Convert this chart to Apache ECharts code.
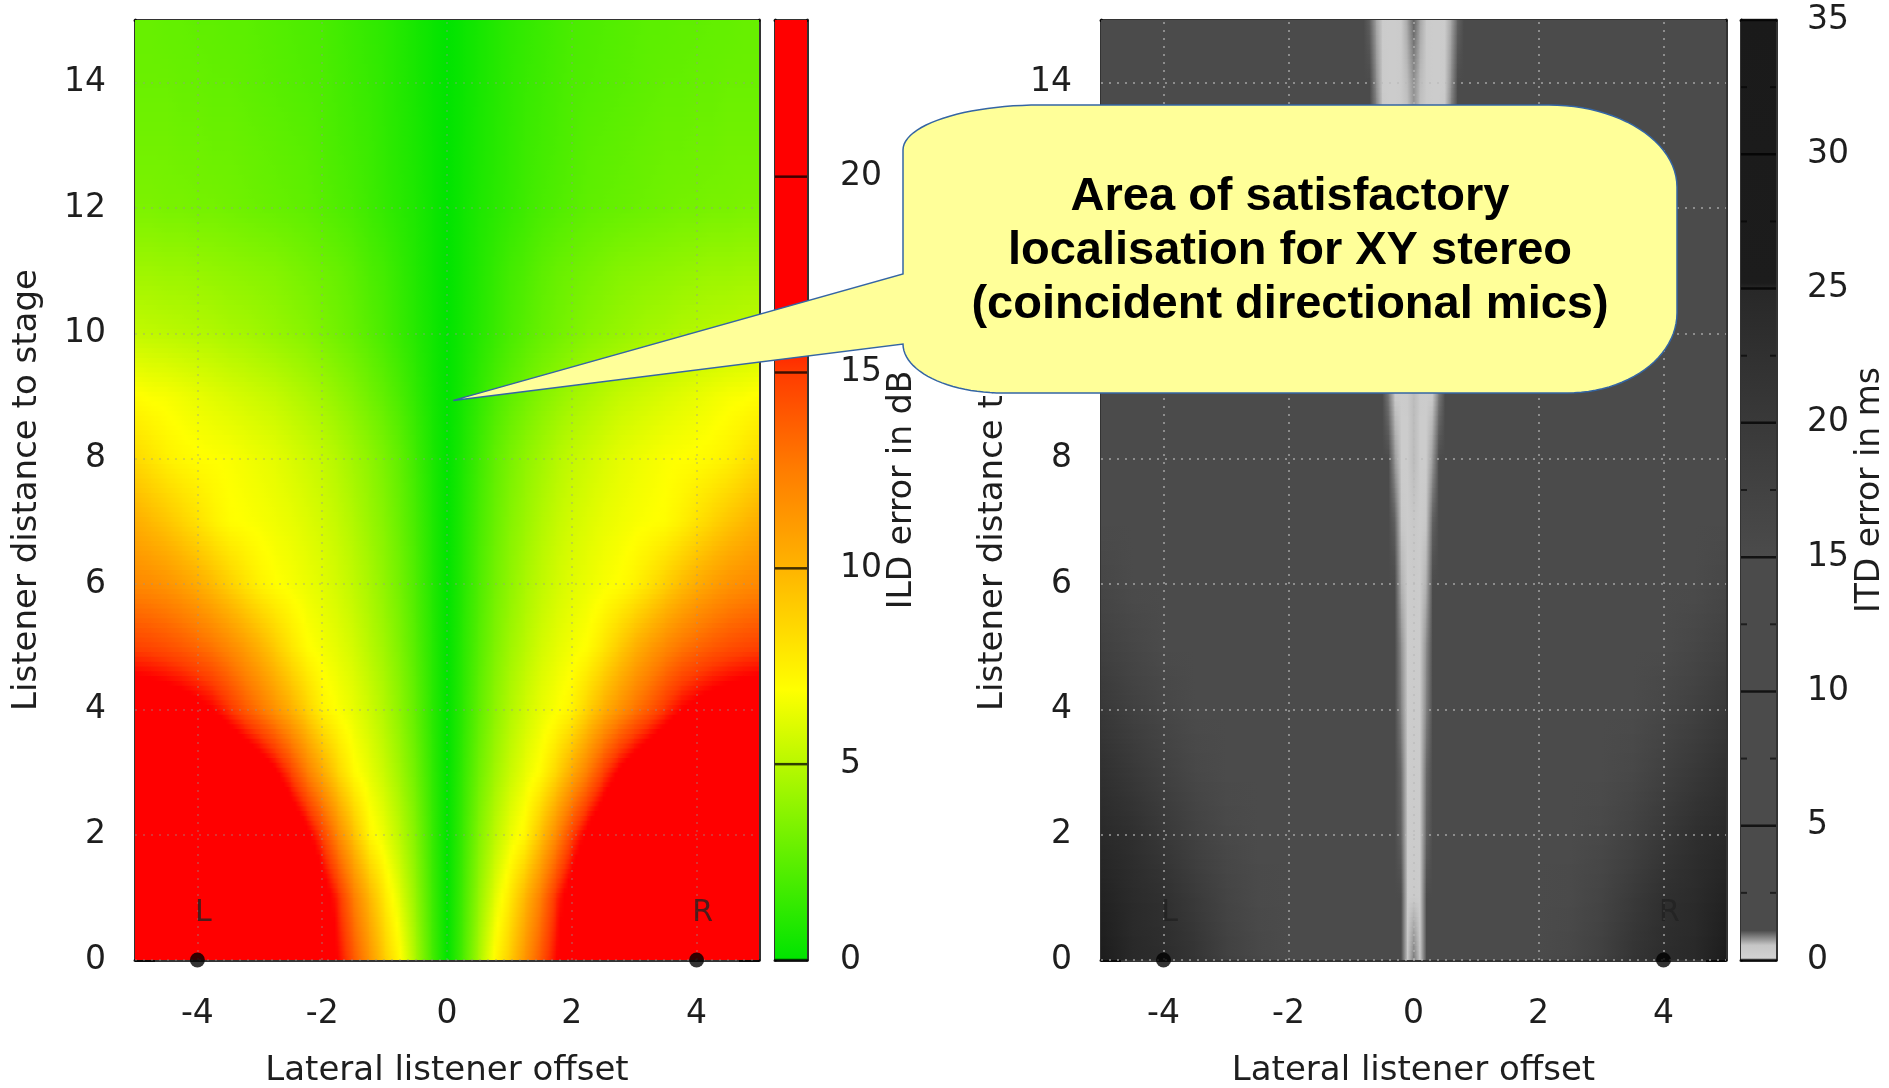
<!DOCTYPE html>
<html>
<head>
<meta charset="utf-8">
<script src="https://cdn.jsdelivr.net/npm/echarts@6/dist/echarts.min.js"></script>
<style>
html,body{margin:0;padding:0;background:#ffffff;}
#chart{width:1889px;height:1088px;}
</style>
</head>
<body>
<div id="chart"></div>
<script>
// ------------------------------------------------------------------ data
const xTicks = [-4, -2, 0, 2, 4];
const yTicks = [0, 2, 4, 6, 8, 10, 12, 14];
const ildRange = [0, 24];
const itdRange = [0, 35];
const ildBarTicks = [0, 5, 10, 15, 20];
const itdBarTicks = [0, 5, 10, 15, 20, 25, 30, 35];
const itdBarMinorTicks = [2.5, 7.5, 12.5, 17.5, 22.5, 27.5, 32.5];
const speakerX = [-4, 4];
const speakerY = [0, 0];
const speakerNames = ['L', 'R'];
const calloutLines = ['Area of satisfactory', 'localisation for XY stereo', '(coincident directional mics)'];
const calloutTarget = [0.1, 8.93];

// ILD error (dB), rows = listener distance 0..15, columns = lateral offset -5..5
const ildX = [-5,-4.75,-4.5,-4.25,-4,-3.75,-3.5,-3.25,-3,-2.75,-2.5,-2.25,-2,-1.75,-1.5,-1.25,-1,-0.75,-0.5,-0.25,0,0.25,0.5,0.75,1,1.25,1.5,1.75,2,2.25,2.5,2.75,3,3.25,3.5,3.75,4,4.25,4.5,4.75,5];
const ildY = [0,1,2,3,4,5,6,7,8,9,10,11,12,13,14,15];
const ildRows = [
[24,24,24,24,24,24,24,24,24,24,23,21,19,16.5,14,11.5,9,7,4.5,2,0,2,4.5,7,9,11.5,14,16.5,19,21,23,24,24,24,24,24,24,24,24,24,24],
[24,24,24,24,24,24,24,24,24,23,22,20,18,15.5,12.5,10,7.8,6,4,1.8,0,1.8,4,6,7.8,10,12.5,15.5,18,20,22,23,24,24,24,24,24,24,24,24,24],
[24,24,24,24,24,24,24,23,22,21,19.2,17.2,14.8,12,9.5,7.3,6.3,5,3.5,1.6,0,1.6,3.5,5,6.3,7.3,9.5,12,14.8,17.2,19.2,21,22,23,24,24,24,24,24,24,24],
[23,23,23,22.5,22,21.5,20.5,19.5,18.3,16.8,14.8,12.5,10.5,8.6,7.1,6.3,5.4,4.3,3,1.4,0,1.4,3,4.3,5.4,6.3,7.1,8.6,10.5,12.5,14.8,16.8,18.3,19.5,20.5,21.5,22,22.5,23,23,23],
[18.7,18.5,18.2,17.8,17.2,16.5,15.3,14,12.8,11.5,10.2,8.8,7.4,6.8,6.3,5.6,4.8,3.8,2.6,1.2,0,1.2,2.6,3.8,4.8,5.6,6.3,6.8,7.4,8.8,10.2,11.5,12.8,14,15.3,16.5,17.2,17.8,18.2,18.5,18.7],
[14.8,14.6,14.3,13.9,13.4,12.8,12,11.1,10.1,9,7.9,7,6.6,6.2,5.7,5,4.3,3.4,2.3,1.1,0,1.1,2.3,3.4,4.3,5,5.7,6.2,6.6,7,7.9,9,10.1,11.1,12,12.8,13.4,13.9,14.3,14.6,14.8],
[12,11.8,11.5,11,10.4,9.7,8.9,8.1,7.4,6.95,6.7,6.4,6.1,5.7,5.2,4.6,3.9,3.1,2.1,1,0,1,2.1,3.1,3.9,4.6,5.2,5.7,6.1,6.4,6.7,6.95,7.4,8.1,8.9,9.7,10.4,11,11.5,11.8,12],
[10.3,9.8,9.3,8.7,8.1,7.5,7,6.85,6.7,6.5,6.3,6,5.7,5.3,4.8,4.2,3.6,2.8,1.9,0.9,0,0.9,1.9,2.8,3.6,4.2,4.8,5.3,5.7,6,6.3,6.5,6.7,6.85,7,7.5,8.1,8.7,9.3,9.8,10.3],
[8.5,8,7.5,7.2,7,6.9,6.8,6.6,6.4,6.2,5.9,5.6,5.3,4.9,4.4,3.9,3.3,2.6,1.7,0.8,0,0.8,1.7,2.6,3.3,3.9,4.4,4.9,5.3,5.6,5.9,6.2,6.4,6.6,6.8,6.9,7,7.2,7.5,8,8.5],
[7,6.8,6.7,6.5,6.3,6.1,5.9,5.7,5.5,5.3,5,4.7,4.4,4,3.6,3.1,2.6,2,1.3,0.6,0,0.6,1.3,2,2.6,3.1,3.6,4,4.4,4.7,5,5.3,5.5,5.7,5.9,6.1,6.3,6.5,6.7,6.8,7],
[5.3,5.2,5.1,5,4.9,4.8,4.6,4.5,4.3,4.1,3.9,3.7,3.4,3.1,2.8,2.4,2,1.5,1,0.5,0,0.5,1,1.5,2,2.4,2.8,3.1,3.4,3.7,3.9,4.1,4.3,4.5,4.6,4.8,4.9,5,5.1,5.2,5.3],
[4.3,4.3,4.2,4.2,4.1,4,3.9,3.8,3.7,3.6,3.4,3.2,3,2.8,2.5,2.1,1.8,1.35,0.9,0.45,0,0.45,0.9,1.35,1.8,2.1,2.5,2.8,3,3.2,3.4,3.6,3.7,3.8,3.9,4,4.1,4.2,4.2,4.3,4.3],
[3.4,3.4,3.3,3.3,3.2,3.2,3.1,3,2.9,2.8,2.7,2.6,2.4,2.2,2,1.7,1.4,1.1,0.8,0.4,0,0.4,0.8,1.1,1.4,1.7,2,2.2,2.4,2.6,2.7,2.8,2.9,3,3.1,3.2,3.2,3.3,3.3,3.4,3.4],
[3.1,3.1,3.1,3,3,2.9,2.9,2.8,2.7,2.6,2.5,2.4,2.2,2,1.8,1.6,1.3,1,0.7,0.35,0,0.35,0.7,1,1.3,1.6,1.8,2,2.2,2.4,2.5,2.6,2.7,2.8,2.9,2.9,3,3,3.1,3.1,3.1],
[2.9,2.9,2.9,2.8,2.8,2.7,2.7,2.6,2.5,2.4,2.3,2.2,2.1,1.9,1.7,1.5,1.25,0.95,0.65,0.3,0,0.3,0.65,0.95,1.25,1.5,1.7,1.9,2.1,2.2,2.3,2.4,2.5,2.6,2.7,2.7,2.8,2.8,2.9,2.9,2.9],
[2.8,2.8,2.7,2.7,2.6,2.6,2.5,2.5,2.4,2.3,2.2,2.1,2,1.8,1.6,1.4,1.2,0.9,0.6,0.3,0,0.3,0.6,0.9,1.2,1.4,1.6,1.8,2,2.1,2.2,2.3,2.4,2.5,2.5,2.6,2.6,2.7,2.7,2.8,2.8]
];

// ITD error (ms), rows = listener distance 0..15, columns = lateral offset (denser near 0)
const itdX = [-5,-4.5,-4,-3.5,-3,-2.5,-2,-1.5,-1,-0.8,-0.7,-0.6,-0.5,-0.4,-0.3,-0.2,-0.1,0,0.1,0.2,0.3,0.4,0.5,0.6,0.7,0.8,1,1.5,2,2.5,3,3.5,4,4.5,5];
const itdY = [0,1,2,3,4,5,6,7,8,9,10,11,12,13,14,15];
const itdRows = [
[25.3,24.8,23.6,21.5,18,16,12,10,10,10,10,10,10,10,10,10,0.35,0.9,0.35,10,10,10,10,10,10,10,10,10,12,16,18,21.5,23.6,24.8,25.3],
[25.1,24.2,22.7,19.8,17,15.3,12,10,10,10,10,10,10,10,10,10,0.3,0.4,0.3,10,10,10,10,10,10,10,10,10,12,15.3,17,19.8,22.7,24.2,25.1],
[24.6,23,20.3,17.7,15.8,12,10,10,10,10,10,10,10,10,10,1.0,0.3,0.35,0.3,1.0,10,10,10,10,10,10,10,10,10,12,15.8,17.7,20.3,23,24.6],
[22.7,20.3,18,16,12,10,10,10,10,10,10,10,10,10,10,0.96,0.3,0.35,0.3,0.96,10,10,10,10,10,10,10,10,10,10,12,16,18,20.3,22.7],
[20.3,18,16.4,13,10,10,10,10,10,10,10,10,10,10,10,0.85,0.3,0.35,0.3,0.85,10,10,10,10,10,10,10,10,10,10,10,13,16.4,18,20.3],
[18,16.4,13,10,10,10,10,10,10,10,10,10,10,10,10,0.8,0.3,0.35,0.3,0.8,10,10,10,10,10,10,10,10,10,10,10,10,13,16.4,18],
[16.4,14,10,10,10,10,10,10,10,10,10,10,10,10,10,0.65,0.3,0.4,0.3,0.65,10,10,10,10,10,10,10,10,10,10,10,10,10,14,16.4],
[14,10,10,10,10,10,10,10,10,10,10,10,10,10,1.0,0.5,0.3,0.5,0.3,0.5,1.0,10,10,10,10,10,10,10,10,10,10,10,10,10,14],
[10,10,10,10,10,10,10,10,10,10,10,10,10,10,0.75,0.3,0.3,0.6,0.3,0.3,0.75,10,10,10,10,10,10,10,10,10,10,10,10,10,10],
[10,10,10,10,10,10,10,10,10,10,10,10,10,0.9,0.4,0.3,0.35,0.6,0.35,0.3,0.4,0.9,10,10,10,10,10,10,10,10,10,10,10,10,10],
[10,10,10,10,10,10,10,10,10,10,10,10,10,0.7,0.3,0.3,0.4,0.6,0.4,0.3,0.3,0.7,10,10,10,10,10,10,10,10,10,10,10,10,10],
[10,10,10,10,10,10,10,10,10,10,10,10,0.95,0.45,0.3,0.3,0.45,0.65,0.45,0.3,0.3,0.45,0.95,10,10,10,10,10,10,10,10,10,10,10,10],
[10,10,10,10,10,10,10,10,10,10,10,10,0.7,0.35,0.3,0.3,0.5,0.7,0.5,0.3,0.3,0.35,0.7,10,10,10,10,10,10,10,10,10,10,10,10],
[10,10,10,10,10,10,10,10,10,10,10,0.95,0.5,0.3,0.3,0.35,0.55,0.75,0.55,0.35,0.3,0.3,0.5,0.95,10,10,10,10,10,10,10,10,10,10,10],
[10,10,10,10,10,10,10,10,10,10,10,0.8,0.4,0.3,0.3,0.4,0.6,0.8,0.6,0.4,0.3,0.3,0.4,0.8,10,10,10,10,10,10,10,10,10,10,10],
[10,10,10,10,10,10,10,10,10,10,1.0,0.7,0.35,0.3,0.3,0.4,0.7,1.0,0.7,0.4,0.3,0.3,0.35,0.7,1.0,10,10,10,10,10,10,10,10,10,10]
];

// ------------------------------------------------------------------ palettes (style)
const ildPalette = [[0,'#00e400'],[3.5,'#80f300'],[6.9,'#ffff00'],[10,'#ffb400'],[12.5,'#ff7d00'],[15,'#ff3c00'],[16.5,'#ff0000'],[24,'#ff0000']];
const itdPalette = [[0,'#d4d4d4'],[0.55,'#c6c6c6'],[1.1,'#4b4b4b'],[15,'#4b4b4b'],[20,'#393939'],[25,'#282828'],[25.2,'#1c1c1c'],[35,'#1a1a1a']];

function checkGrid(xs, ys, rows, name) {
  if (rows.length !== ys.length) throw new Error(name + ' rows ' + rows.length);
  rows.forEach((r, k) => { if (r.length !== xs.length) throw new Error(name + ' row ' + k + ' len ' + r.length); });
}
checkGrid(ildX, ildY, ildRows, 'ild');
checkGrid(itdX, itdY, itdRows, 'itd');

function hexRgb(h) { return [parseInt(h.slice(1,3),16), parseInt(h.slice(3,5),16), parseInt(h.slice(5,7),16)]; }
function mix(a, b, t) { return [a[0]+(b[0]-a[0])*t, a[1]+(b[1]-a[1])*t, a[2]+(b[2]-a[2])*t]; }
function css(c) { return 'rgb(' + Math.round(c[0]) + ',' + Math.round(c[1]) + ',' + Math.round(c[2]) + ')'; }
function makePal(stops) {
  const p = stops.map(s => [s[0], hexRgb(s[1])]);
  return function (v) {
    if (v <= p[0][0]) return p[0][1];
    for (let k = 1; k < p.length; k++) {
      if (v <= p[k][0]) {
        const a = p[k-1], b = p[k];
        const d = b[0] - a[0];
        return mix(a[1], b[1], d > 0 ? (v - a[0]) / d : 1);
      }
    }
    return p[p.length-1][1];
  };
}
const ildColor = makePal(ildPalette);
const itdColor = makePal(itdPalette);

function gridData(xs, ys, rows) {
  const out = [];
  for (let j = 0; j < ys.length; j++)
    for (let i = 0; i < xs.length; i++)
      out.push([xs[i], ys[j], rows[j][i], i, j]);
  return out;
}

// smooth (pm3d-like) shading of each cell between four read nodes
function heatRender(xs, ys, rows, pal, mode) {
  return function (params, api) {
    const i = api.value(3), j = api.value(4);
    if (i >= xs.length - 1 || j >= ys.length - 1) return null;
    const pa = api.coord([api.value(0), api.value(1)]);
    const pb = api.coord([xs[i+1], ys[j+1]]);
    const x0 = pa[0], x1 = pb[0], yb = pa[1], yt = pb[1];
    const v00 = api.value(2), v10 = rows[j][i+1], v01 = rows[j+1][i], v11 = rows[j+1][i+1];
    const K = Math.max(1, Math.round((yb - yt) / 5));
    const children = [];
    for (let k = 0; k < K; k++) {
      const t = (k + 0.5) / K;
      const yA = yb - (yb - yt) * k / K;
      const yB = yb - (yb - yt) * (k + 1) / K;
      let stops;
      if (mode === 'value') {
        const vl = v00 + (v01 - v00) * t, vr = v10 + (v11 - v10) * t;
        stops = [0, 0.25, 0.5, 0.75, 1].map(o => ({offset: o, color: css(pal(vl + (vr - vl) * o))}));
      } else {
        const cl = mix(pal(v00), pal(v01), t), cr = mix(pal(v10), pal(v11), t);
        stops = [{offset: 0, color: css(cl)}, {offset: 1, color: css(cr)}];
      }
      children.push({
        type: 'rect',
        shape: {x: x0, y: yB - 0.5, width: x1 - x0 + 0.8, height: yA - yB + 1},
        style: {fill: new echarts.graphic.LinearGradient(0, 0, 1, 0, stops)}
      });
    }
    return {type: 'group', children: children};
  };
}

function barRender(palette, range, major, minor) {
  return function (params, api) {
    const p0 = api.coord([0, range[0]]), p1 = api.coord([1, range[1]]);
    const span = range[1] - range[0];
    const grad = new echarts.graphic.LinearGradient(0, 1, 0, 0,
      palette.map(s => ({offset: (s[0] - range[0]) / span, color: s[1]})));
    const children = [{type: 'rect', shape: {x: p0[0], y: p1[1], width: p1[0] - p0[0], height: p0[1] - p1[1]}, style: {fill: grad}}];
    major.forEach(v => {
      const c = api.coord([0, v]);
      children.push({type: 'line', shape: {x1: p0[0], y1: c[1], x2: p1[0], y2: c[1]}, style: {stroke: 'rgba(0,0,0,0.75)', lineWidth: 2.5}});
    });
    minor.forEach(v => {
      const c = api.coord([0, v]);
      children.push({type: 'line', shape: {x1: p0[0], y1: c[1], x2: p0[0] + 6, y2: c[1]}, style: {stroke: 'rgba(0,0,0,0.6)', lineWidth: 2}});
      children.push({type: 'line', shape: {x1: p1[0] - 6, y1: c[1], x2: p1[0], y2: c[1]}, style: {stroke: 'rgba(0,0,0,0.6)', lineWidth: 2}});
    });
    return {type: 'group', children: children};
  };
}

// ------------------------------------------------------------------ axes
const FONT = 'DejaVu Sans';
const TXT = '#1e1e1e';
const frame = {color: 'rgba(0,0,0,0.8)', width: 3};

function mainX(grid, pos, withLabels) {
  return {
    gridIndex: grid, type: 'value', position: pos, min: -5, max: 5,
    axisLine: {show: true, onZero: false, lineStyle: frame},
    axisTick: {show: true, inside: true, length: 20, customValues: xTicks, lineStyle: {color: 'rgba(0,0,0,0.8)', width: 3}},
    axisLabel: {show: withLabels, customValues: xTicks, margin: 38, fontSize: 33, fontFamily: FONT, color: TXT},
    splitLine: {show: false},
    name: withLabels ? 'Lateral listener offset' : '',
    nameLocation: 'middle', nameGap: 94,
    nameTextStyle: {fontSize: 34, fontFamily: FONT, color: TXT}
  };
}
function mainY(grid, pos, withLabels) {
  return {
    gridIndex: grid, type: 'value', position: pos, min: 0, max: 15,
    axisLine: {show: true, onZero: false, lineStyle: frame},
    axisTick: {show: true, inside: true, length: 20, customValues: yTicks, lineStyle: {color: 'rgba(0,0,0,0.8)', width: 3}},
    axisLabel: {show: withLabels, customValues: yTicks, margin: 29, fontSize: 33, fontFamily: FONT, color: TXT},
    splitLine: {show: false},
    name: withLabels ? 'Listener distance to stage' : '',
    nameLocation: 'middle', nameGap: 91,
    nameTextStyle: {fontSize: 34, fontFamily: FONT, color: TXT}
  };
}
function barX(grid, pos) {
  return {
    gridIndex: grid, type: 'value', position: pos, min: 0, max: 1,
    axisLine: {show: true, onZero: false, lineStyle: frame},
    axisTick: {show: false}, axisLabel: {show: false}, splitLine: {show: false}
  };
}
function barY(grid, pos, range, labels, name, margin, gap) {
  return {
    gridIndex: grid, type: 'value', position: pos, min: range[0], max: range[1],
    axisLine: {show: true, onZero: false, lineStyle: frame},
    axisTick: {show: false},
    axisLabel: {show: !!labels, customValues: labels || [], margin: margin, fontSize: 33, fontFamily: FONT, color: TXT},
    splitLine: {show: false},
    name: name || '', nameLocation: 'middle', nameGap: gap,
    nameTextStyle: {fontSize: 33, fontFamily: FONT, color: TXT}
  };
}

function gridLines(color) {
  return {
    silent: true, symbol: ['none', 'none'], animation: false,
    label: {show: false},
    lineStyle: {color: color, width: 2, type: [2, 6]},
    emphasis: {disabled: true},
    data: xTicks.map(v => ({xAxis: v})).concat(yTicks.map(v => ({yAxis: v})))
  };
}

function speakerSeries(xi, yi) {
  return {
    type: 'scatter', xAxisIndex: xi, yAxisIndex: yi, z: 10, clip: false, silent: true,
    symbol: 'circle', symbolSize: 15,
    itemStyle: {color: '#000'},
    label: {show: true, position: 'top', distance: 24, offset: [6, 0], formatter: p => p.name,
      fontSize: 30, fontFamily: FONT, color: '#222'},
    data: speakerX.map((x, k) => ({name: speakerNames[k], value: [x, speakerY[k]]}))
  };
}

const gridBase = {containLabel: false, outerBoundsMode: 'none', show: false};

const option = {
  animation: false,
  backgroundColor: '#ffffff',
  grid: [
    Object.assign({left: 135, top: 20, width: 624, height: 940}, gridBase),
    Object.assign({left: 775, top: 20, width: 32, height: 940}, gridBase),
    Object.assign({left: 1101, top: 20, width: 625, height: 940}, gridBase),
    Object.assign({left: 1741, top: 20, width: 35, height: 940}, gridBase)
  ],
  xAxis: [
    mainX(0, 'bottom', true), mainX(0, 'top', false),
    barX(1, 'bottom'), barX(1, 'top'),
    mainX(2, 'bottom', true), mainX(2, 'top', false),
    barX(3, 'bottom'), barX(3, 'top')
  ],
  yAxis: [
    mainY(0, 'left', true), mainY(0, 'right', false),
    barY(1, 'left', ildRange, null, '', 0, 0),
    barY(1, 'right', ildRange, ildBarTicks, 'ILD error in dB', 33, 79),
    mainY(2, 'left', true), mainY(2, 'right', false),
    barY(3, 'left', itdRange, null, '', 0, 0),
    barY(3, 'right', itdRange, itdBarTicks, 'ITD error in ms', 31, 78)
  ],
  series: [
    {
      type: 'custom', xAxisIndex: 0, yAxisIndex: 0, clip: true, silent: true, z: 1,
      renderItem: heatRender(ildX, ildY, ildRows, ildColor, 'value'),
      encode: {x: 0, y: 1},
      data: gridData(ildX, ildY, ildRows),
      markLine: gridLines('rgba(150,150,150,0.35)')
    },
    speakerSeries(0, 0),
    {
      type: 'custom', xAxisIndex: 2, yAxisIndex: 2, silent: true, z: 1,
      renderItem: barRender(ildPalette, ildRange, ildBarTicks, []),
      data: [[0, ildRange[0]]]
    },
    {
      type: 'custom', xAxisIndex: 4, yAxisIndex: 4, clip: true, silent: true, z: 1,
      renderItem: heatRender(itdX, itdY, itdRows, itdColor, 'color'),
      encode: {x: 0, y: 1},
      data: gridData(itdX, itdY, itdRows),
      markLine: gridLines('rgba(185,185,185,0.6)')
    },
    speakerSeries(4, 4),
    {
      type: 'custom', xAxisIndex: 6, yAxisIndex: 6, silent: true, z: 1,
      renderItem: barRender(itdPalette, itdRange, itdBarTicks, itdBarMinorTicks),
      data: [[0, itdRange[0]]]
    }
  ]
};

const chart = echarts.init(document.getElementById('chart'), null, {renderer: 'canvas'});
chart.setOption(option);

// ------------------------------------------------------------------ callout annotation
const tip = chart.convertToPixel({xAxisIndex: 0, yAxisIndex: 0}, calloutTarget);
const B = {l: 903, r: 1677, t: 105, b: 393};
const cTL = [137, 45], cTR = [128, 82], cBR = [110, 80], cBL = [100, 49];
const baseTop = 274;
function arcPts(cx, cy, rx, ry, a0, a1, n) {
  const pts = [];
  for (let s = 0; s <= n; s++) {
    const a = (a0 + (a1 - a0) * s / n) * Math.PI / 180;
    pts.push([cx + rx * Math.cos(a), cy + ry * Math.sin(a)]);
  }
  return pts;
}
const bubblePts = [].concat(
  arcPts(B.r - cTR[0], B.t + cTR[1], cTR[0], cTR[1], -90, 0, 24),
  arcPts(B.r - cBR[0], B.b - cBR[1], cBR[0], cBR[1], 0, 90, 24),
  arcPts(B.l + cBL[0], B.b - cBL[1], cBL[0], cBL[1], 90, 180, 24),
  [[tip[0], tip[1]], [B.l, baseTop]],
  arcPts(B.l + cTL[0], B.t + cTL[1], cTL[0], cTL[1], 180, 270, 24)
);

chart.setOption({
  graphic: {
    elements: [
      {
        type: 'polygon', z: 100, silent: true,
        shape: {points: bubblePts},
        style: {fill: '#ffff99', stroke: '#3465a4', lineWidth: 1.5}
      },
      {
        type: 'text', z: 101, silent: true,
        x: (B.l + B.r) / 2, y: (B.t + B.b) / 2 + 2,
        style: {
          text: calloutLines.join('\n'),
          font: 'bold 47px "Liberation Sans", Arial, sans-serif',
          fontSize: 47, fontWeight: 'bold', fontFamily: '"Liberation Sans", Arial, sans-serif',
          lineHeight: 54,
          fill: '#000000',
          align: 'center', verticalAlign: 'middle',
          textAlign: 'center', textVerticalAlign: 'middle'
        }
      }
    ]
  }
});
</script>
</body>
</html>
